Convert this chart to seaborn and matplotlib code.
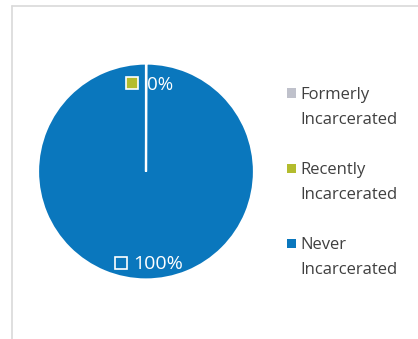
import matplotlib
matplotlib.use("Agg")
import matplotlib.pyplot as plt
import seaborn as sns
from matplotlib.lines import Line2D
from matplotlib.patches import Rectangle

sns.set_theme(style="white")
plt.rcParams['font.family'] = ['Open Sans', 'DejaVu Sans']

categories = ["Formerly\nIncarcerated", "Recently\nIncarcerated", "Never\nIncarcerated"]
values = [0.0, 0.05, 99.95]
shown_pct = ["0%", "0%", "100%"]
colors = ["#BFC1CB", "#B3BC2E", "#0A77BD"]

W, H = 418, 339
fig = plt.figure(figsize=(W / 100, H / 100), dpi=100)
fig.patch.set_facecolor("white")

ax = fig.add_axes([38 / W, (H - 281) / H, 216 / W, 219 / H])
wedges, _ = ax.pie(values, colors=colors, startangle=90, counterclock=False,
                   wedgeprops=dict(edgecolor="white", linewidth=1.6))
ax.set_xlim(-1.0, 1.0)
ax.set_ylim(-1.0, 1.0)
ax.set_aspect("equal")
ax.axis("off")

# data labels (Recently and Never): (index, square x, square y, text x, text baseline y, size)
label_specs = [(1, -0.13, 0.815, 0.005, 0.755, 13.5),
               (2, -0.23, -0.847, -0.115, -0.903, 14)]
for idx, xsq, ysq, xt, yt, fs in label_specs:
    ax.plot([xsq], [ysq], marker="s", markersize=8.3, markerfacecolor=colors[idx],
            markeredgecolor="white", markeredgewidth=1.2, linestyle="none")
    ax.text(xt, yt, shown_pct[idx], color="white", fontsize=fs,
            ha="left", va="baseline")

# legend drawn manually
leg_x = 300.5 / W
sq_x = 287 / W
first_base = [99, 174, 249]
line_gap = 25
for i, lab in enumerate(categories):
    yb = first_base[i]
    fig.patches.append(Rectangle((sq_x, 1 - (yb - 1.5) / H), 9 / W, 9 / H,
                                 transform=fig.transFigure, facecolor=colors[i],
                                 edgecolor="none"))
    for j, part in enumerate(lab.split("\n")):
        fig.text(leg_x, 1 - (yb + j * line_gap) / H, part, color="#404040",
                 fontsize=12, ha="left", va="baseline", transform=fig.transFigure)

# outer border lines of the chart area (cropped screenshot)
fig.add_artist(Line2D([12 / W, 1], [1 - 6 / H, 1 - 6 / H], color="#D9D9D9", lw=1.2,
                      transform=fig.transFigure))
fig.add_artist(Line2D([12 / W, 12 / W], [0, 1 - 6 / H], color="#D9D9D9", lw=1.2,
                      transform=fig.transFigure))

fig.savefig("out.png", dpi=100, facecolor="white")
